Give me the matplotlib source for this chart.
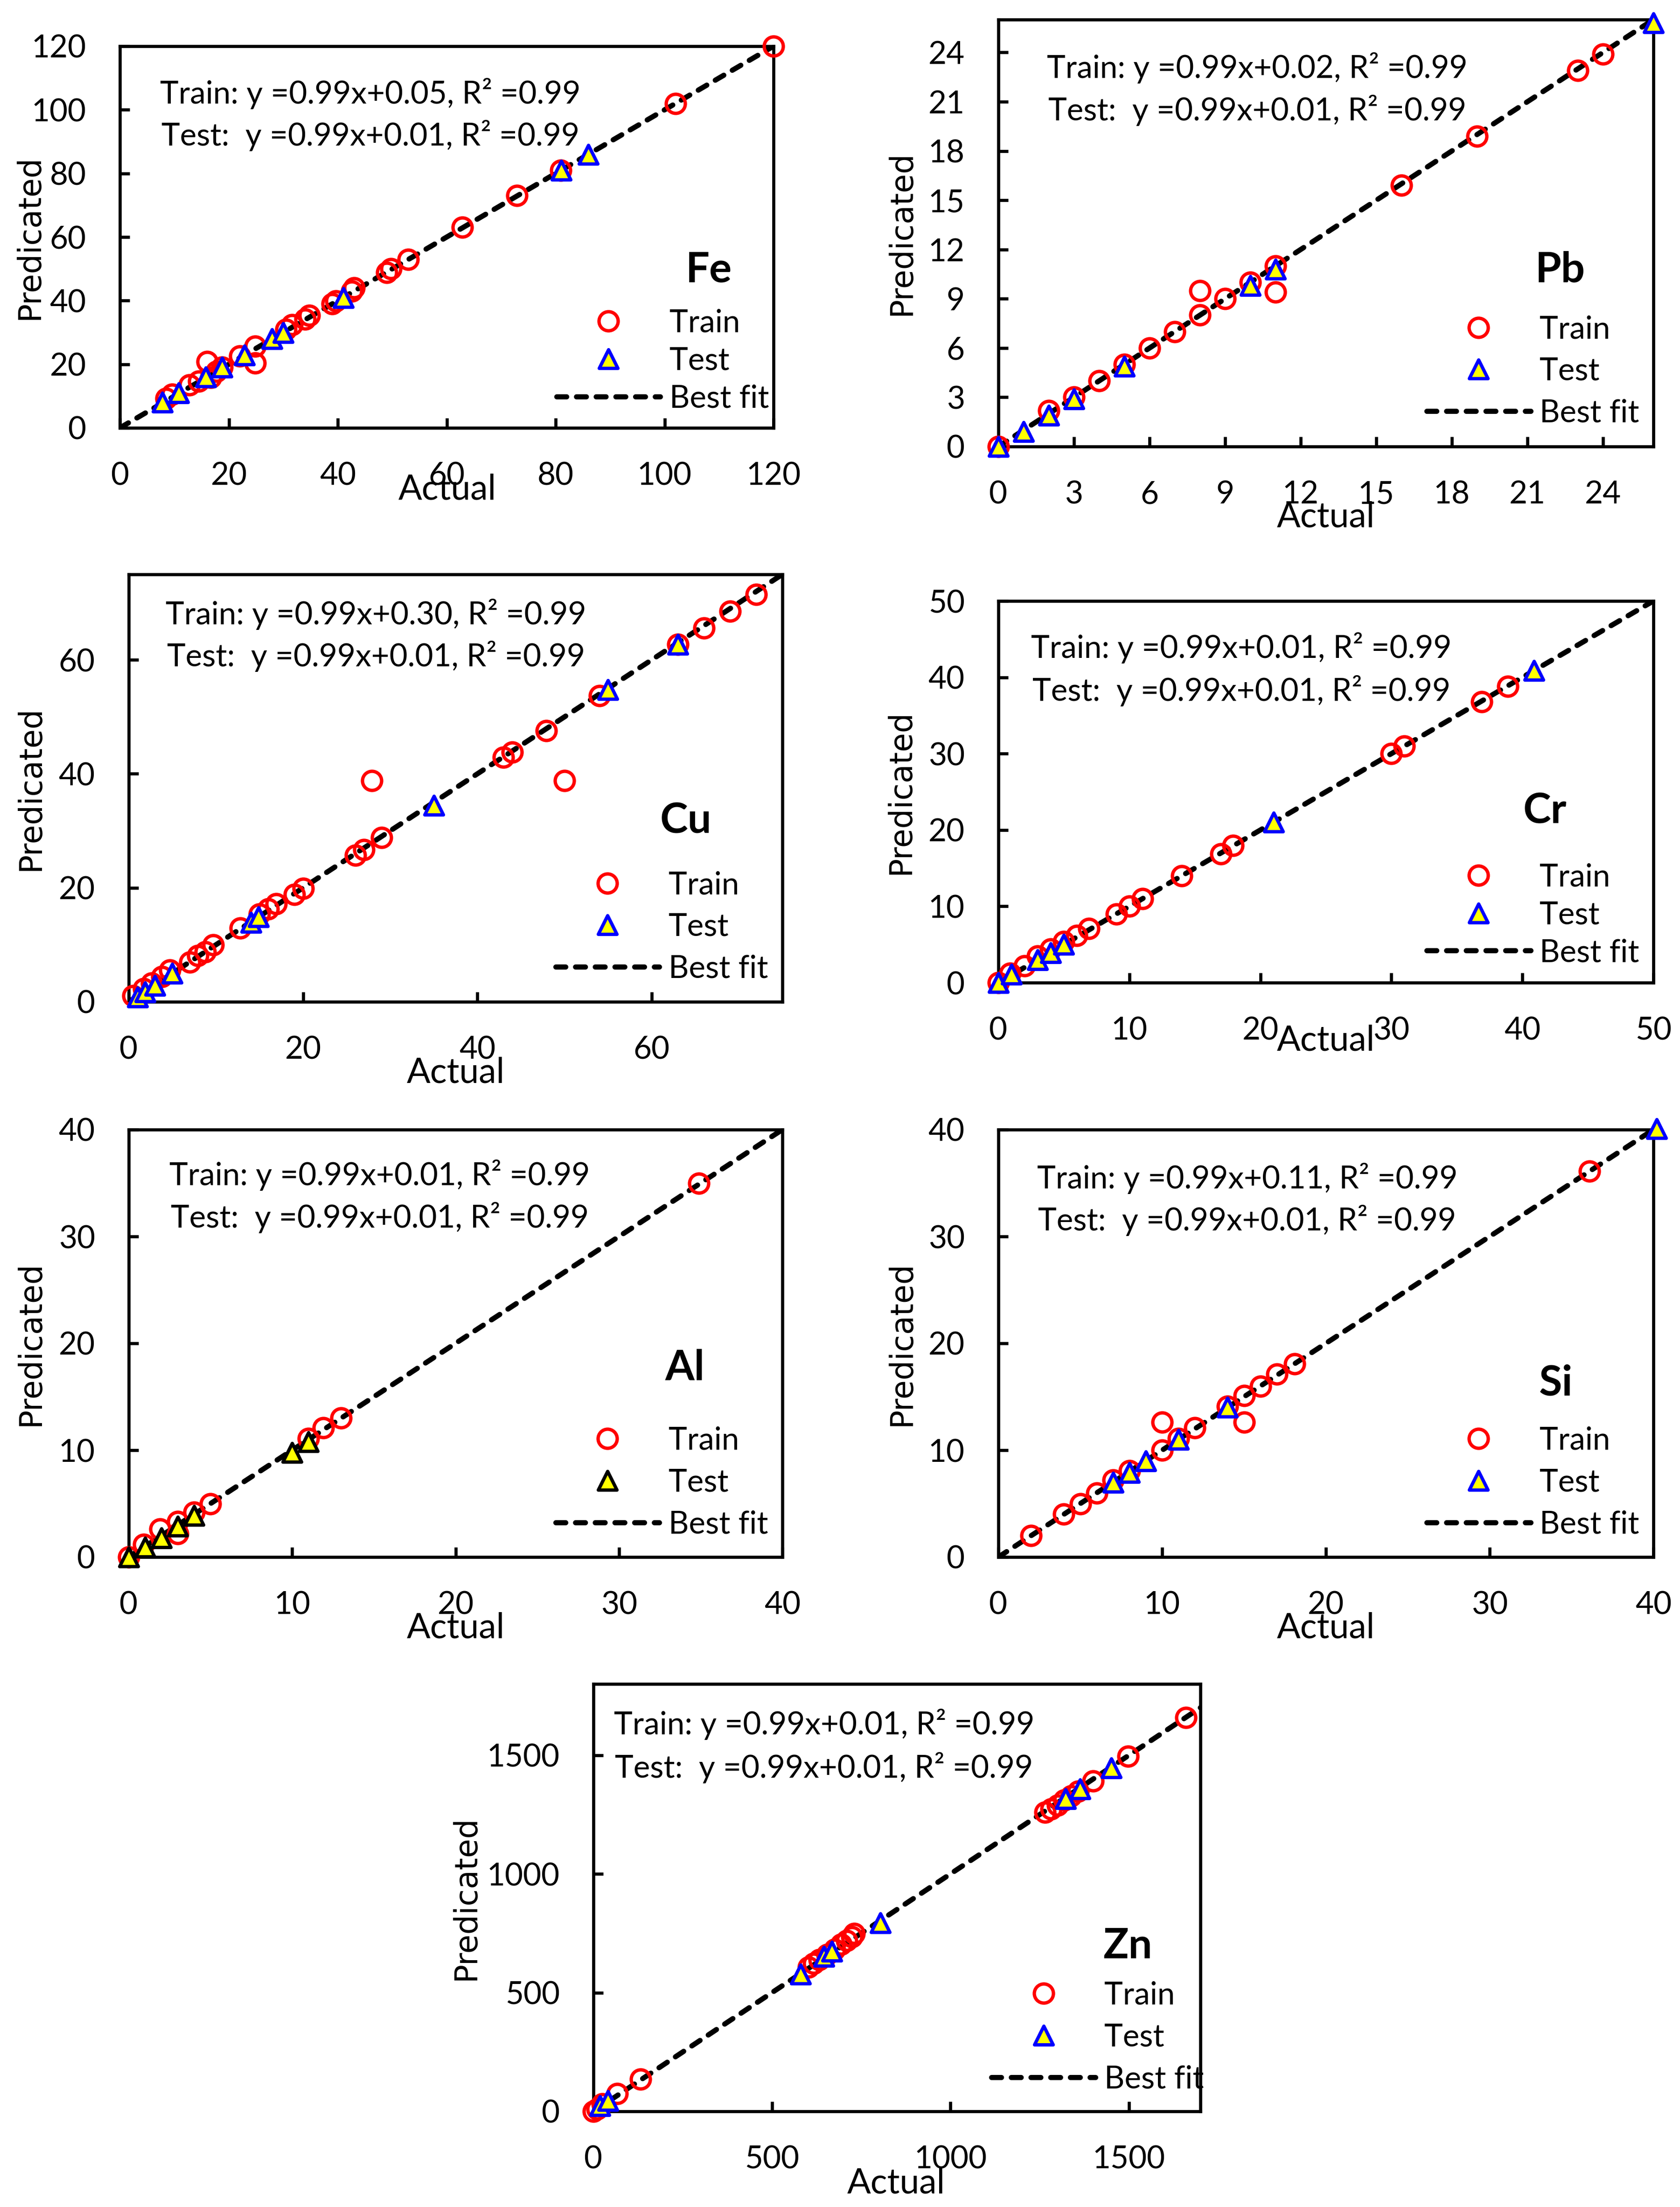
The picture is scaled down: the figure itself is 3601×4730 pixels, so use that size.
import matplotlib
matplotlib.use("Agg")
import matplotlib.pyplot as plt
from matplotlib.markers import MarkerStyle

plt.rcParams['font.family'] = ['Lato', 'DejaVu Sans']

# ---------------- data ----------------
fe_train_actual = [8.5, 9.6, 12.8, 14.5, 16, 16.7, 17.7, 18.8, 22, 24.8, 24.8, 30.5, 31.6, 34, 34.8, 39, 39.7, 42.6, 43, 49, 49.8, 52.9, 62.9, 72.9, 80.9, 102, 120]
fe_train_pred = [9.2, 10.5, 13.5, 14.7, 20.8, 15.9, 17.8, 19, 22.6, 25.7, 20.4, 31, 32.4, 34.2, 35.4, 39, 39.9, 43, 44, 48.8, 50, 53, 63.1, 73.1, 81, 102, 120]
fe_test_actual = [7.8, 10.8, 15.8, 18.8, 22.9, 27.9, 30, 41, 81, 86]
fe_test_pred = [8, 11, 16, 19, 22.9, 28, 30, 41, 81, 86]

pb_train_actual = [0, 2, 3, 4, 5, 6, 7, 8, 8, 9, 10, 11, 11, 16, 19, 23, 24]
pb_train_pred = [0, 2.2, 3, 4, 5, 6, 7, 8, 9.5, 9, 10, 11, 9.4, 15.9, 18.9, 22.9, 23.9]
pb_test_actual = [0, 1, 2, 3, 5, 10, 11, 26]
pb_test_pred = [0, 0.9, 1.9, 2.9, 4.9, 9.8, 10.8, 25.8]

cu_train_actual = [0.5, 1.7, 2.6, 3.8, 4.7, 7, 7.9, 8.8, 9.7, 12.8, 15, 16, 16.9, 19, 20, 26, 27, 27.9, 29, 43, 44, 47.9, 50, 54, 63, 66, 69, 72]
cu_train_pred = [1.1, 2.3, 3.3, 4.4, 5.6, 7, 8.1, 8.8, 10, 12.9, 15.4, 16.3, 17.2, 18.8, 19.9, 25.7, 26.7, 38.8, 28.8, 42.9, 43.8, 47.6, 38.8, 53.7, 62.7, 65.6, 68.5, 71.5]
cu_test_actual = [1, 1.9, 3, 5, 14, 14.9, 35, 55, 63]
cu_test_pred = [0.8, 1.7, 2.9, 5, 13.9, 14.9, 34.5, 54.8, 62.7]

cr_train_actual = [0, 0.9, 2, 3, 4, 5, 6, 6.9, 9, 10, 11, 14, 17, 17.9, 30, 31, 36.9, 38.9]
cr_train_pred = [0, 1.2, 2.2, 3.5, 4.4, 5.4, 6.2, 7.1, 9, 10, 11, 14, 16.9, 18, 30, 31, 36.8, 38.8]
cr_test_actual = [0, 1, 3, 4, 5, 21, 40.9]
cr_test_pred = [0, 1.1, 3, 3.9, 5, 21, 40.9]

al_train_actual = [0, 0.9, 1.9, 3, 3, 4, 5, 11, 11.9, 13, 34.9]
al_train_pred = [0, 1.2, 2.6, 2.2, 3.3, 4.2, 5, 11.1, 12.1, 13, 35]
al_test_actual = [0, 1, 2, 3, 4, 10, 11]
al_test_pred = [0, 0.9, 1.8, 2.9, 3.9, 9.8, 10.8]

si_train_actual = [2, 4, 5, 6, 7, 8, 10, 10, 11, 12, 14, 15, 15, 16, 17, 18.1, 36.1]
si_train_pred = [2, 4, 5, 6, 7.2, 8.1, 10, 12.6, 11.1, 12.1, 14.1, 15.1, 12.6, 16, 17.1, 18.1, 36.1]
si_test_actual = [7, 8, 9, 11, 14, 40.2]
si_test_pred = [7, 7.9, 9, 11, 14, 40.1]

zn_train_actual = [0, 10, 25, 66, 132, 602, 617, 632, 654, 675, 694, 709, 724, 730, 1265, 1282, 1300, 1319, 1338, 1358, 1399, 1497, 1659]
zn_train_pred = [0, 9, 31, 75, 135, 608, 623, 638, 660, 682, 704, 719, 734, 749, 1259, 1274, 1289, 1311, 1328, 1348, 1392, 1496, 1658]
zn_test_actual = [18, 40, 580, 646, 668, 803, 1323, 1363, 1450]
zn_test_pred = [24, 46, 578, 652, 675, 793, 1316, 1358, 1447]

elements = ['Fe', 'Pb', 'Cu', 'Cr', 'Al', 'Si', 'Zn']
train_eqs = ['Train: y =0.99x+0.05, R\u00b2 =0.99', 'Train: y =0.99x+0.02, R\u00b2 =0.99',
             'Train: y =0.99x+0.30, R\u00b2 =0.99', 'Train: y =0.99x+0.01, R\u00b2 =0.99',
             'Train: y =0.99x+0.01, R\u00b2 =0.99', 'Train: y =0.99x+0.11, R\u00b2 =0.99',
             'Train: y =0.99x+0.01, R\u00b2 =0.99']
test_eqs = ['Test:  y =0.99x+0.01, R\u00b2 =0.99'] * 7
axis_max = [120, 26, 75, 50, 40, 40, 1700]
yaxis_max = [120, 26, 75, 50, 40, 40, 1800]
ticks = [[0, 20, 40, 60, 80, 100, 120],
         [0, 3, 6, 9, 12, 15, 18, 21, 24],
         [0, 20, 40, 60],
         [0, 10, 20, 30, 40, 50],
         [0, 10, 20, 30, 40],
         [0, 10, 20, 30, 40],
         [0, 500, 1000, 1500]]

train_x = [fe_train_actual, pb_train_actual, cu_train_actual, cr_train_actual, al_train_actual, si_train_actual, zn_train_actual]
train_y = [fe_train_pred, pb_train_pred, cu_train_pred, cr_train_pred, al_train_pred, si_train_pred, zn_train_pred]
test_x = [fe_test_actual, pb_test_actual, cu_test_actual, cr_test_actual, al_test_actual, si_test_actual, zn_test_actual]
test_y = [fe_test_pred, pb_test_pred, cu_test_pred, cr_test_pred, al_test_pred, si_test_pred, zn_test_pred]

# ---------------- layout (pixel boxes: left, top, right, bottom) ----------------
W, H = 3601, 4730
boxes = [(257, 99, 1658, 917), (2140, 42, 3544, 957),
         (276, 1231, 1677, 2147), (2140, 1288, 3544, 2106),
         (276, 2421, 1677, 3337), (2140, 2421, 3544, 3337),
         (1272, 3609, 2573, 4525)]
eq_pos = [(0.383, 0.850, 0.739), (0.395, 0.863, 0.764), (0.378, 0.883, 0.785),
          (0.371, 0.851, 0.738), (0.384, 0.870, 0.771), (0.380, 0.862, 0.764),
          (0.380, 0.882, 0.781)]
name_pos = [(0.901, 0.382), (0.858, 0.385), (0.852, 0.395), (0.834, 0.417),
            (0.851, 0.414), (0.851, 0.378), (0.880, 0.358)]
leg_pos = [(0.668, 0.175, 0.28), (0.654, 0.176, 0.41), (0.653, 0.175, 0.41),
           (0.654, 0.177, 0.28), (0.653, 0.174, 0.41), (0.654, 0.174, 0.41),
           (0.656, 0.173, 0.41)]
xlab_pos = [(0.501, -0.188), (0.50, -0.188), (0.50, -0.189), (0.50, -0.178),
            (0.50, -0.189), (0.50, -0.189), (0.499, -0.192)]
ylab_x = [-0.138, -0.148, -0.150, -0.149, -0.150, -0.148, -0.210]
test_edge = ['#0000FF', '#0000FF', '#0000FF', '#0000FF', 'black', '#0000FF', '#0000FF']

fig = plt.figure(figsize=(W / 100, H / 100), dpi=100)
fig.patch.set_facecolor('white')

FS = 48.5
tri = MarkerStyle('^', joinstyle='round')

for i, el in enumerate(elements):
    l, t, r, b = boxes[i]
    ax = fig.add_axes([l / W, 1 - b / H, (r - l) / W, (b - t) / H])
    xm, ym = axis_max[i], yaxis_max[i]
    ax.set_xlim(0, xm)
    ax.set_ylim(0, ym)
    ax.set_xticks(ticks[i])
    ax.set_yticks(ticks[i])

    fit, = ax.plot([0, xm], [0, xm], color='black', lw=8, dashes=(1.9, 1.9),
                   dash_capstyle='round', zorder=2, label='Best fit')
    tr, = ax.plot(train_x[i], train_y[i], linestyle='none', marker='o', ms=29.5,
                  mfc='none', mec='#FF0000', mew=5.2, zorder=3, clip_on=False, label='Train')
    te, = ax.plot(test_x[i], test_y[i], linestyle='none', marker=tri, ms=29,
                  mfc='#FFFF00', mec=test_edge[i], mew=5.2, zorder=4, clip_on=False, label='Test')

    for s in ax.spines.values():
        s.set_linewidth(4.8)
    ax.tick_params(direction='in', length=15, width=4.8, labelsize=FS, pad=52,
                   top=False, right=False)

    ax.set_xlabel('Actual', fontsize=54)
    ax.xaxis.set_label_coords(*xlab_pos[i])
    ax.xaxis.label.set_va('baseline')
    ax.set_ylabel('Predicated', fontsize=48, family=['DejaVu Sans'])
    ax.yaxis.set_label_coords(ylab_x[i], 0.5)
    ax.yaxis.label.set_va('center')
    ax.yaxis.label.set_ha('center')

    cx, y1, y2 = eq_pos[i]
    ax.text(cx, y1, train_eqs[i], transform=ax.transAxes, ha='center', va='baseline', fontsize=FS)
    ax.text(cx, y2, test_eqs[i], transform=ax.transAxes, ha='center', va='baseline', fontsize=FS)
    nx, ny = name_pos[i]
    ax.text(nx, ny, el, transform=ax.transAxes, ha='center', va='baseline',
            fontsize=65, fontweight='bold')

    lx, ly, lsp = leg_pos[i]
    ax.legend(handles=[tr, te, fit], loc='center left', bbox_to_anchor=(lx, ly),
              frameon=False, fontsize=FS, borderpad=0, borderaxespad=0,
              handlelength=3.3, handletextpad=0.29, labelspacing=lsp, numpoints=1)

fig.savefig('out.png', dpi=100, facecolor='white')
